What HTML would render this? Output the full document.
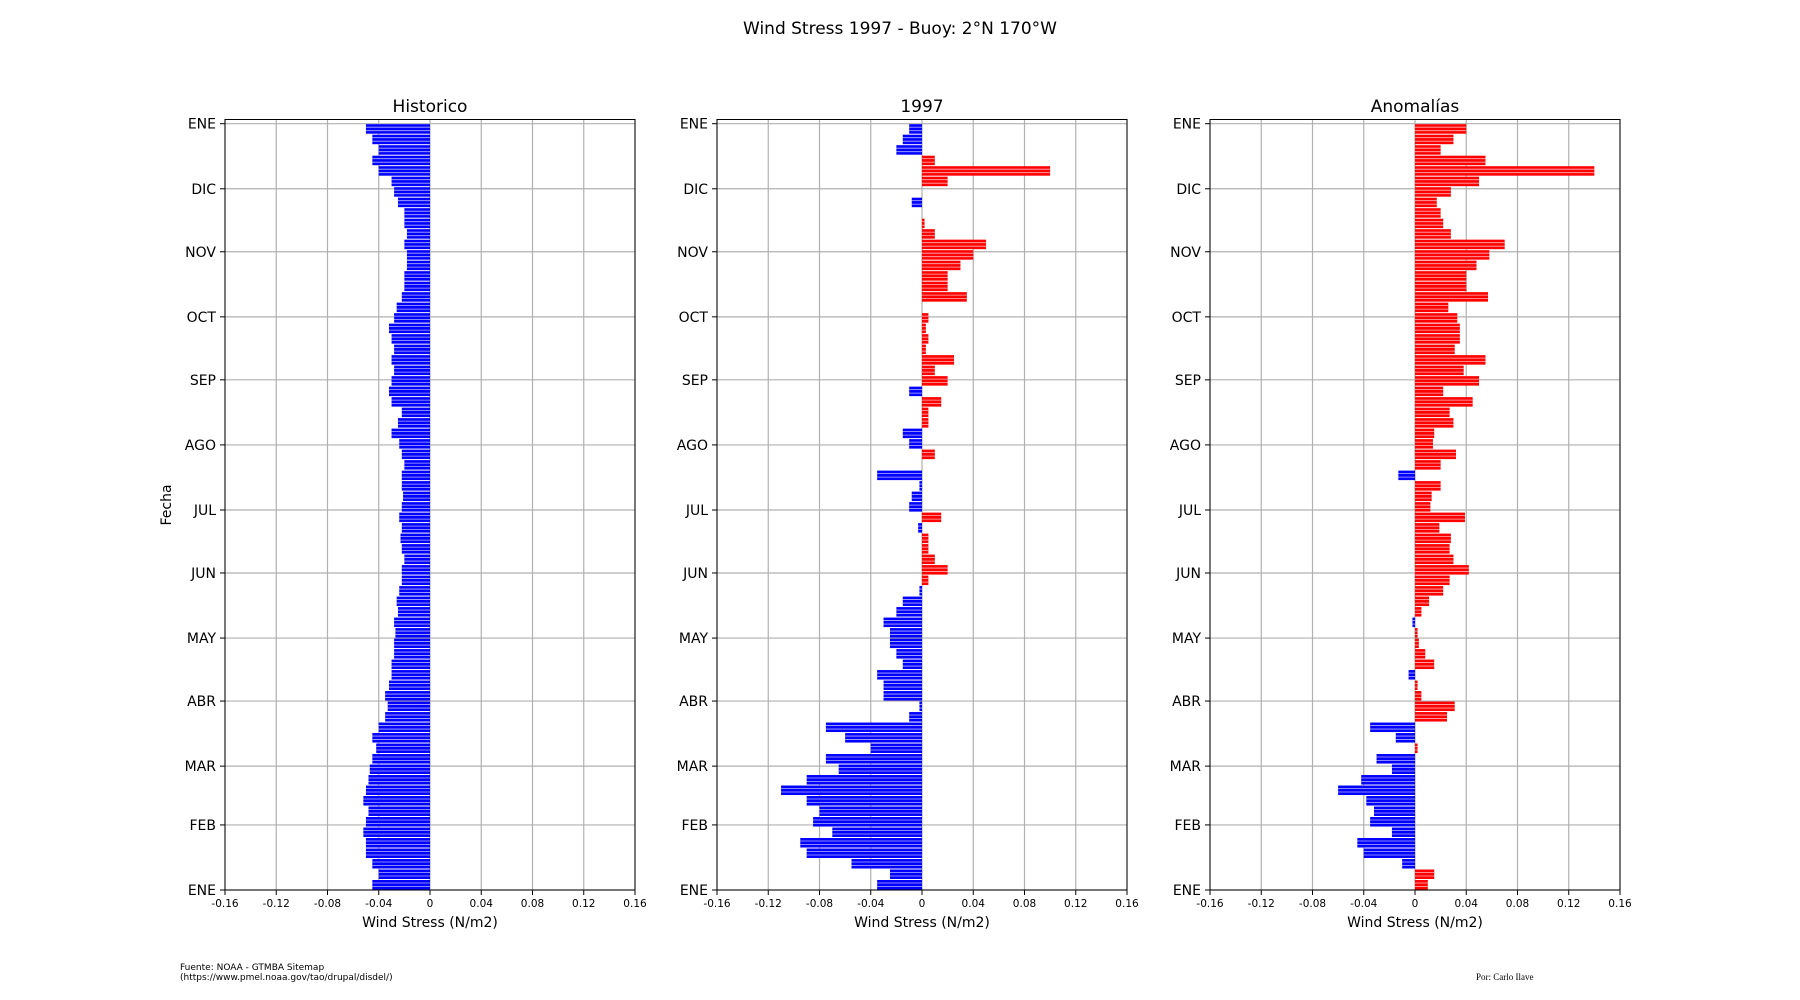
<!DOCTYPE html>
<html><head><meta charset="utf-8"><style>
body{margin:0;background:#fff;}
svg{display:block;font-family:"DejaVu Sans","Liberation Sans",sans-serif;}
</style></head><body>
<svg id="fig" width="1800" height="1000" viewBox="0 0 1800 1000">
<text x="900" y="34" text-anchor="middle" font-size="17">Wind Stress 1997 - Buoy: 2°N 170°W</text>
<text x="171" y="505" text-anchor="middle" font-size="14" transform="rotate(-90 171 505)">Fecha</text>
<text x="180" y="970" font-size="9">Fuente: NOAA - GTMBA Sitemap</text>
<text x="180" y="980" font-size="9">(https://www.pmel.noaa.gov/tao/drupal/disdel/)</text>
<text x="1476" y="980" font-size="9" font-family="Liberation Serif, serif">Por: Carlo Ilave</text>
</svg>
<script>
// 5-day bins starting Jan 1 (bottom) up to year end
const y1997 = [-0.035,-0.025,-0.055,-0.09,-0.095,-0.07,-0.085,-0.08,-0.09,-0.11,-0.09,-0.065,-0.075,-0.04,-0.06,-0.075,-0.01,-0.002,-0.03,-0.03,-0.035,-0.015,-0.02,-0.025,-0.025,-0.03,-0.02,-0.015,-0.002,0.005,0.02,0.01,0.005,0.005,-0.003,0.015,-0.01,-0.008,-0.002,-0.035,0.0,0.01,-0.01,-0.015,0.005,0.005,0.015,-0.01,0.02,0.01,0.025,0.003,0.005,0.003,0.005,0.0,0.035,0.02,0.02,0.03,0.04,0.05,0.01,0.002,0.0,-0.008,0.0,0.02,0.1,0.01,-0.02,-0.015,-0.01];
const hist = [-0.045,-0.04,-0.045,-0.05,-0.05,-0.052,-0.05,-0.048,-0.052,-0.05,-0.048,-0.047,-0.045,-0.042,-0.045,-0.04,-0.035,-0.033,-0.035,-0.032,-0.03,-0.03,-0.028,-0.028,-0.027,-0.028,-0.025,-0.026,-0.024,-0.022,-0.022,-0.02,-0.022,-0.023,-0.022,-0.024,-0.022,-0.021,-0.022,-0.022,-0.02,-0.022,-0.024,-0.03,-0.025,-0.022,-0.03,-0.032,-0.03,-0.028,-0.03,-0.028,-0.03,-0.032,-0.028,-0.026,-0.022,-0.02,-0.02,-0.018,-0.018,-0.02,-0.018,-0.02,-0.02,-0.025,-0.028,-0.03,-0.04,-0.045,-0.04,-0.045,-0.05];
const monthLabels = ["ENE","FEB","MAR","ABR","MAY","JUN","JUL","AGO","SEP","OCT","NOV","DIC","ENE"];
const monthDays = [0,31,59,90,120,151,181,212,243,273,304,334,365];
const xTicks = [-0.16,-0.12,-0.08,-0.04,0,0.04,0.08,0.12,0.16];
const xTickLabels = ["-0.16","-0.12","-0.08","-0.04","0","0.04","0.08","0.12","0.16"];
const panelTitles = ["Historico","1997","Anomalías"];
const anom = y1997.map((v,i)=>v-hist[i]);
const series = [hist,y1997,anom];
const binDays = 5;

const NS="http://www.w3.org/2000/svg";
const svgEl=document.getElementById('fig');
function mk(tag,attrs,parent){const e=document.createElementNS(NS,tag);for(const k in attrs)e.setAttribute(k,attrs[k]);(parent||svgEl).appendChild(e);return e;}
const lefts=[225,717,1210], W=410, topY=119.5, bottomY=890;
const yMin=0,yMax=367;
series.forEach((data,p)=>{
  const L=lefts[p];
  const g=mk('g',{});
  
  
  const xs=v=>L+(v+0.16)/0.32*W;
  const ys=d=>bottomY-(d-yMin)/(yMax-yMin)*(bottomY-topY);
  xTicks.forEach((t,i)=>{
    const l=mk('line',{x1:xs(t),x2:xs(t),y1:topY,y2:bottomY,stroke:'#b0b0b0','stroke-width':1.2},g);
    
    
    mk('line',{x1:xs(t),x2:xs(t),y1:bottomY,y2:bottomY+5,stroke:'#000'},g);
    const tx=mk('text',{x:xs(t),y:bottomY+17,'text-anchor':'middle','font-size':10.5},g);
    tx.textContent=xTickLabels[i];
    
    
  });
  monthDays.forEach((d,i)=>{
    const l=mk('line',{x1:L,x2:L+W,y1:ys(d),y2:ys(d),stroke:'#b0b0b0','stroke-width':1.2},g);
    
    
    mk('line',{x1:L-5,x2:L,y1:ys(d),y2:ys(d),stroke:'#000'},g);
    const tx=mk('text',{x:L-9,y:ys(d)+5,'text-anchor':'end','font-size':14},g);
    tx.textContent=monthLabels[i];
    
    
  });
  data.forEach((v,i)=>{
    const d0=i*binDays, d1=Math.min(d0+binDays,365);
    const y1=ys(d1), y2=ys(d0);
    const x0=xs(0), x1=xs(v);
    const r=mk('rect',{x:Math.min(x0,x1),y:y1+0.5,width:Math.abs(x1-x0),height:Math.max(0.5,y2-y1-1),fill:v>=0?'#ff0000':'#0000ff'},g);
    
    
    for(let s=1;s<3;s++){
      const yy=y1+(y2-y1)*s/3;
      mk('line',{x1:Math.min(x0,x1),x2:Math.max(x0,x1),y1:yy,y2:yy,stroke:'#fff','stroke-width':0.8,opacity:0.7},g);
    }
  });
  const fr=mk('rect',{x:L,y:topY,width:W,height:bottomY-topY,fill:'none',stroke:'#000','stroke-width':1},g);
  
  
  const t=mk('text',{x:L+W/2,y:112,'text-anchor':'middle','font-size':17},g);
  t.textContent=panelTitles[p];
  
  
  const xl=mk('text',{x:L+W/2,y:927,'text-anchor':'middle','font-size':14},g);
  xl.textContent='Wind Stress (N/m2)';
  
  
});
</script>
</body></html>
